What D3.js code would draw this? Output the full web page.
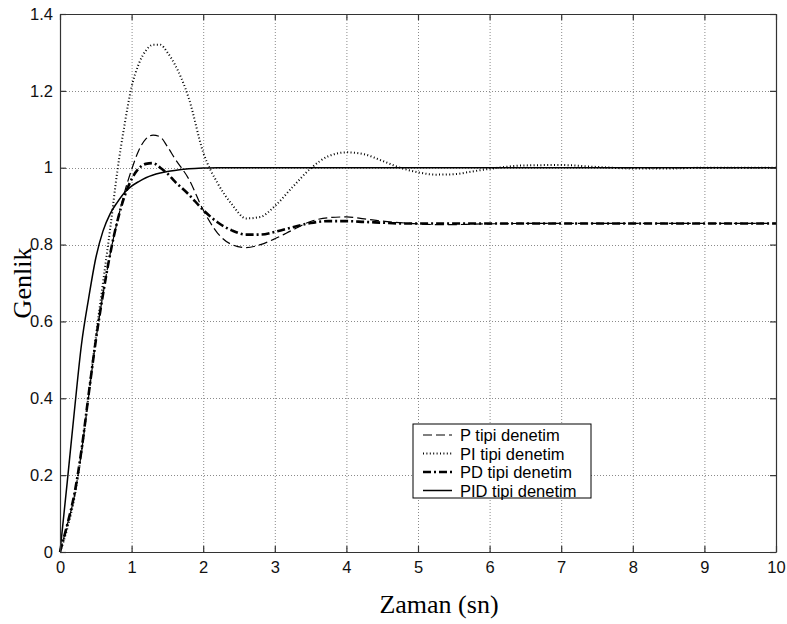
<!DOCTYPE html>
<html>
<head>
<meta charset="utf-8">
<script src="https://cdn.jsdelivr.net/npm/d3@7"></script>
<style>
  html, body { margin: 0; padding: 0; background: #fff; }
  svg { display: block; }
</style>
</head>
<body>
<div id="chart"></div>
<script>
// time samples (sn)
const times = [0, 0.1, 0.2, 0.3, 0.4, 0.5, 0.6, 0.7, 0.8, 0.9, 1.0, 1.1, 1.2, 1.3, 1.4, 1.5, 1.6, 1.8, 2.0, 2.2, 2.4, 2.6, 2.8,
  3.0, 3.25, 3.5, 3.75, 4.0, 4.25, 4.5, 4.75, 5.0, 5.25, 5.5, 5.75, 6.0, 6.5, 7.0, 7.5, 8.0, 8.5, 9.0, 9.5, 10];

const pValues = [0, 0.07, 0.145, 0.26, 0.405, 0.55, 0.67, 0.775, 0.86, 0.935, 0.995, 1.045, 1.075, 1.085, 1.08, 1.055, 1.025, 0.97, 0.89, 0.83, 0.80, 0.792, 0.80,
  0.815, 0.838, 0.86, 0.87, 0.872, 0.867, 0.861, 0.857, 0.854, 0.852, 0.852, 0.853, 0.854, 0.855, 0.855, 0.855, 0.855, 0.855, 0.855, 0.855, 0.855];

const piValues = [0, 0.06, 0.14, 0.26, 0.41, 0.56, 0.70, 0.84, 0.99, 1.11, 1.21, 1.27, 1.305, 1.32, 1.32, 1.30, 1.27, 1.18, 1.04, 0.96, 0.905, 0.868, 0.872,
  0.90, 0.95, 0.998, 1.03, 1.04, 1.035, 1.018, 1.0, 0.988, 0.982, 0.983, 0.99, 0.997, 1.006, 1.007, 1.002, 0.998, 0.998, 1.0, 1.0, 1.0];

const pdValues = [0, 0.07, 0.15, 0.265, 0.41, 0.55, 0.67, 0.775, 0.86, 0.925, 0.97, 0.998, 1.01, 1.012, 1.0, 0.985, 0.965, 0.93, 0.89, 0.858, 0.837, 0.826, 0.826,
  0.833, 0.845, 0.856, 0.861, 0.861, 0.859, 0.857, 0.855, 0.855, 0.855, 0.855, 0.855, 0.855, 0.855, 0.855, 0.855, 0.855, 0.855, 0.855, 0.855, 0.855];

const pidValues = [0, 0.18, 0.365, 0.54, 0.66, 0.765, 0.835, 0.88, 0.91, 0.935, 0.952, 0.964, 0.974, 0.981, 0.986, 0.99, 0.993, 0.997, 0.999, 1, 1, 1, 1,
  1, 1, 1, 1, 1, 1, 1, 1, 1, 1, 1, 1, 1, 1, 1, 1, 1, 1, 1, 1, 1];

const seriesNames = ['P tipi denetim', 'PI tipi denetim', 'PD tipi denetim', 'PID tipi denetim'];
const xTicks = [0, 1, 2, 3, 4, 5, 6, 7, 8, 9, 10];
const yTicks = [0, 0.2, 0.4, 0.6, 0.8, 1, 1.2, 1.4];

const W = 787, H = 624;
const margin = { top: 14, right: 11, bottom: 72, left: 60 };
const width = W - margin.left - margin.right;
const height = H - margin.top - margin.bottom;
const sansFont = '"Liberation Sans", Arial, sans-serif';
const serifFont = '"Liberation Serif", "Times New Roman", serif';

const styles = [
  { dash: '9,4', w: 1.2 },
  { dash: '1,2.4', w: 2 },
  { dash: '8,3,2,3', w: 2.6 },
  { dash: null, w: 1.5 }
];

const svgRoot = d3.select('#chart').append('svg')
  .attr('width', W).attr('height', H);
svgRoot.append('rect').attr('width', W).attr('height', H).attr('fill', '#fff');

const svg = svgRoot.append('g')
  .attr('transform', `translate(${margin.left},${margin.top})`);

const x = d3.scaleLinear().domain([0, 10]).range([0, width]);
const y = d3.scaleLinear().domain([0, 1.4]).range([height, 0]);

// grid
const grid = svg.append('g').attr('stroke', '#8a8a8a').attr('stroke-width', 1).attr('stroke-dasharray', '1,2');
grid.selectAll('.gx').data(xTicks.slice(1, -1)).join('line')
  .attr('x1', d => x(d) + 0.5).attr('x2', d => x(d) + 0.5)
  .attr('y1', 0).attr('y2', height);
grid.selectAll('.gy').data(yTicks.slice(1, -1)).join('line')
  .attr('y1', d => Math.round(y(d)) + 0.5).attr('y2', d => Math.round(y(d)) + 0.5)
  .attr('x1', 0).attr('x2', width);

// curves
const allSeries = [pValues, piValues, pdValues, pidValues];
const line = d3.line()
  .x(d => x(d[0]))
  .y(d => y(d[1]))
  .curve(d3.curveMonotoneX);

allSeries.forEach((vals, i) => {
  svg.append('path')
    .datum(times.map((t, k) => [t, vals[k]]))
    .attr('fill', 'none')
    .attr('stroke', '#000')
    .attr('stroke-width', styles[i].w)
    .attr('stroke-dasharray', styles[i].dash)
    .attr('d', line);
});

// axes (MATLAB style, inward ticks on all sides)
const tickLen = 6;
svg.append('g').attr('transform', `translate(0,${height})`)
  .call(d3.axisBottom(x).tickValues(xTicks).tickFormat(d3.format('d')).tickSizeInner(-tickLen).tickSizeOuter(0).tickPadding(9));
svg.append('g')
  .call(d3.axisTop(x).tickValues(xTicks).tickFormat('').tickSizeInner(-tickLen).tickSizeOuter(0));
svg.append('g')
  .call(d3.axisLeft(y).tickValues(yTicks).tickFormat(d => d === 0 || d === 1 ? String(d) : d.toFixed(1)).tickSizeInner(-tickLen).tickSizeOuter(0).tickPadding(7));
svg.append('g').attr('transform', `translate(${width},0)`)
  .call(d3.axisRight(y).tickValues(yTicks).tickFormat('').tickSizeInner(-tickLen).tickSizeOuter(0));
svg.selectAll('.domain, .tick line').attr('stroke', '#333').attr('stroke-width', 1.2);
svg.selectAll('.tick text').attr('font-family', sansFont).attr('font-size', '16.5px').attr('fill', '#111');

// legend
const lg = svg.append('g').attr('transform', `translate(${413 - margin.left},${424 - margin.top})`);
lg.append('rect').attr('width', 178).attr('height', 74)
  .attr('fill', '#fff').attr('stroke', '#000').attr('stroke-width', 1);
seriesNames.forEach((name, i) => {
  const cy = 11 + i * 18.5;
  lg.append('line')
    .attr('x1', 10).attr('x2', 39).attr('y1', cy).attr('y2', cy)
    .attr('stroke', '#000')
    .attr('stroke-width', styles[i].w)
    .attr('stroke-dasharray', styles[i].dash);
  lg.append('text')
    .attr('x', 47).attr('y', cy + 6)
    .attr('font-family', sansFont)
    .attr('font-size', '16.5px')
    .text(name);
});

// axis titles
svgRoot.append('text')
  .attr('transform', `translate(31,${margin.top + height / 2}) rotate(-90)`)
  .attr('text-anchor', 'middle')
  .attr('font-family', serifFont)
  .attr('font-size', '26px')
  .text('Genlik');
svgRoot.append('text')
  .attr('x', 439).attr('y', 613)
  .attr('text-anchor', 'middle')
  .attr('font-family', serifFont)
  .attr('font-size', '26px')
  .text('Zaman (sn)');
</script>
</body>
</html>
